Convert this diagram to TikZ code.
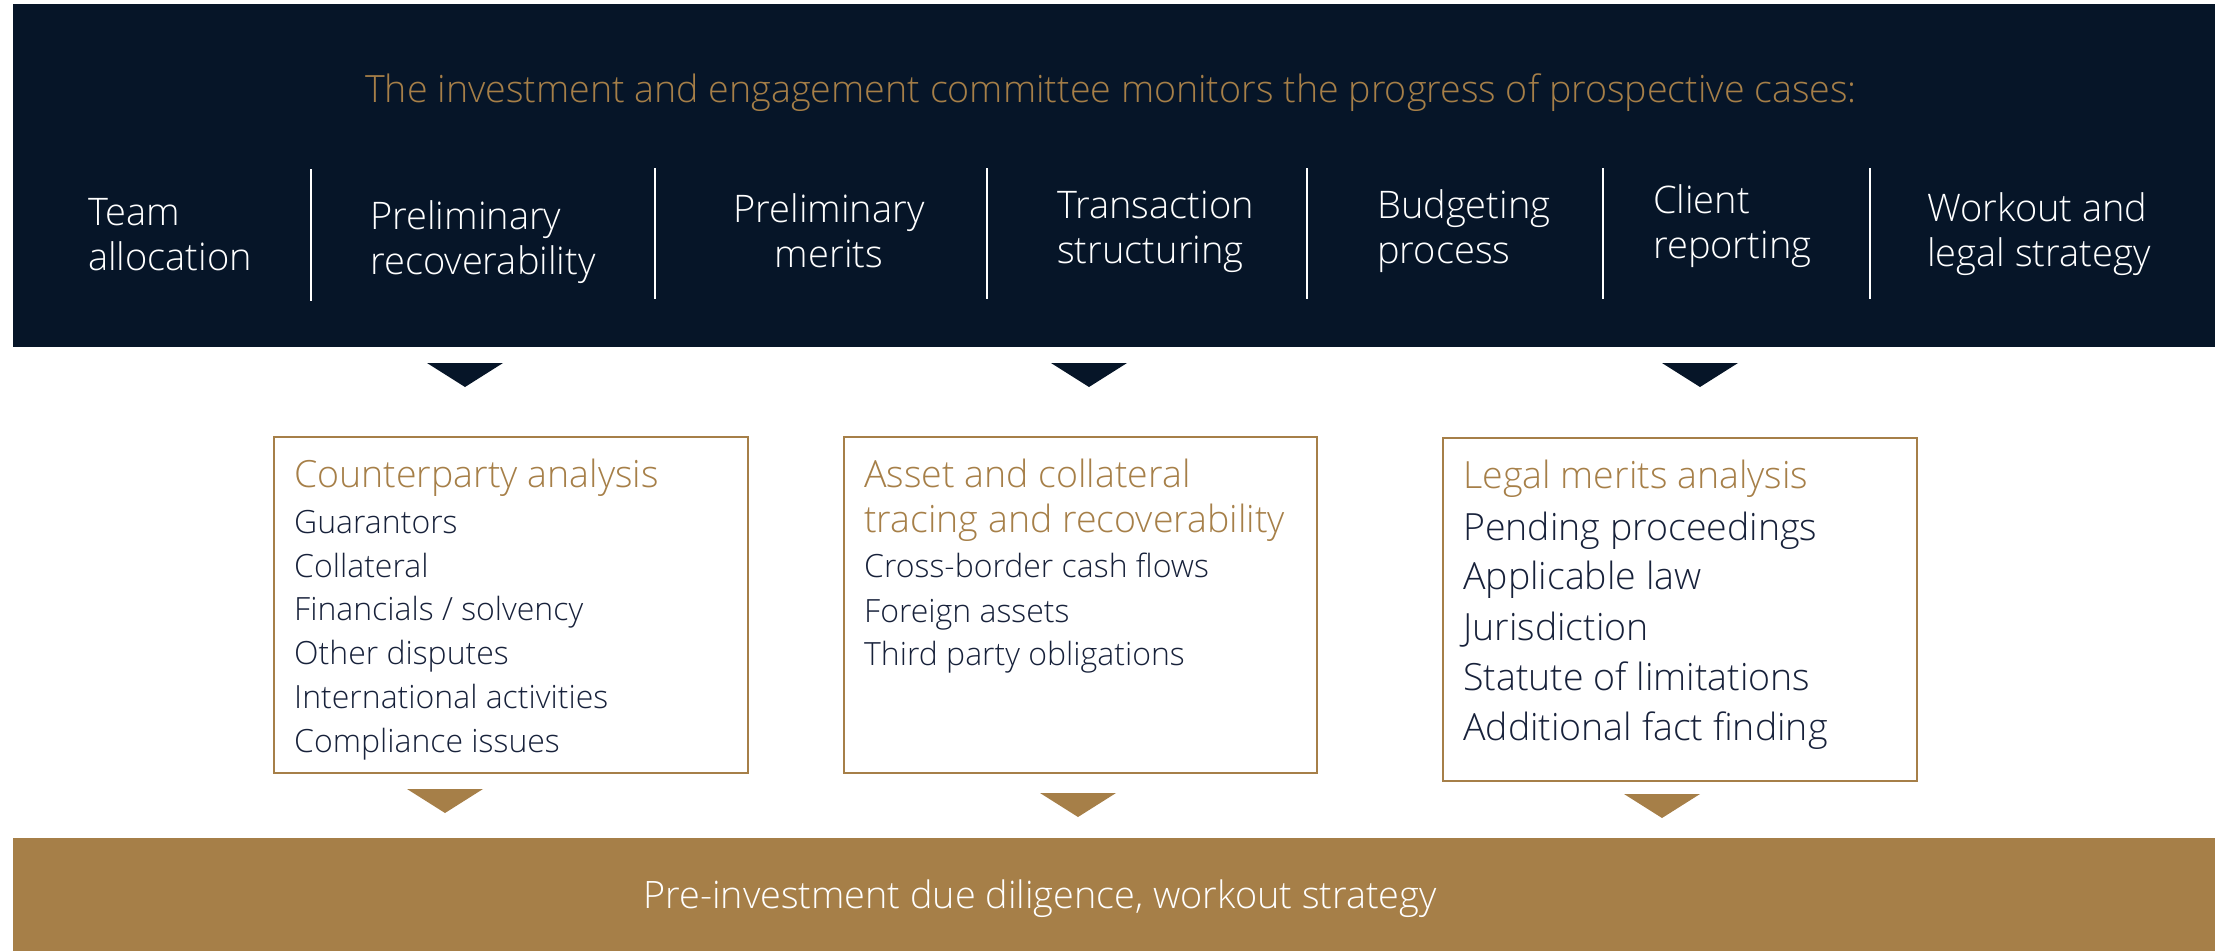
\documentclass[tikz,border=0pt]{standalone}
\usepackage{fontspec}
\setmainfont{Open Sans}[UprightFont=* Light]
\usepackage{xcolor}
\definecolor{navy}{HTML}{061528}
\definecolor{gold}{HTML}{A67F48}
\definecolor{ink}{HTML}{17213A}
\tikzset{
  notch/.pic={
    \fill (-38,0) -- (38,0) -- (0,24) -- cycle;
  },
  stage/.style={
    text = white,
    align = left,
    inner sep = 0,
    anchor = base west,
    font = \fontsize{38}{45}\selectfont
  },
  divider/.style={
    draw = white,
    line width = 2.5pt
  },
  casebox/.style={
    draw = gold,
    line width = 2pt,
    fill = white,
    inner sep = 0,
    anchor = north west
  },
  boxhead/.style={
    text = gold,
    align = left,
    inner sep = 0,
    anchor = base west,
    font = \fontsize{37.5}{45}\selectfont
  },
  boxitem/.style={
    text = ink,
    inner sep = 0,
    anchor = base west,
    font = \fontsize{32}{44}\selectfont
  },
  bigitem/.style={
    boxitem,
    font = \fontsize{37.5}{50}\selectfont
  }
}

\begin{document}
\begin{tikzpicture}[x=1pt, y=-1pt]
    \useasboundingbox (0,0) rectangle (2215,951);
    % committee banner (two-line labels sit on their last baseline)
    \fill[navy] (13,4) rectangle (2215,347);
    \node[text=gold, inner sep=0, anchor=base, font=\fontsize{37.6}{45}\selectfont] (title) at (1111,102)
        {The investment and engagement committee monitors the progress of prospective cases:};
    \node[stage] (team) at (88,270) {Team\\allocation};
    \node[stage] (prerec) at (370,274) {Preliminary\\recoverability};
    \node[stage, align=center, anchor=base] (premer) at (829,267) {Preliminary\\merits};
    \node[stage] (trans) at (1057,263) {Transaction\\structuring};
    \node[stage] (budget) at (1377,263) {Budgeting\\process};
    \node[stage] (client) at (1653,258) {Client\\reporting};
    \node[stage] (workout) at (1927,266) {Workout and\\legal strategy};
    \draw[divider] (311,169) -- (311,301);
    \draw[divider] (655,168) -- (655,299);
    \draw[divider] (987,168) -- (987,299);
    \draw[divider] (1307,168) -- (1307,299);
    \draw[divider] (1603,168) -- (1603,299);
    \draw[divider] (1870,168) -- (1870,299);

    \pic[navy] at (465,363) {notch};
    \pic[navy] at (1089,363) {notch};
    \pic[navy] at (1700,363) {notch};

    % analysis boxes
    \node[casebox, minimum width=474pt, minimum height=336pt] (cpbox) at (273,436) {};
    \node[casebox, minimum width=473pt, minimum height=336pt] (assetbox) at (843,436) {};
    \node[casebox, minimum width=474pt, minimum height=343pt] (legalbox) at (1442,437) {};

    \node[boxhead] (cphead) at (294,487) {Counterparty analysis};
    \node[boxitem] (cp1) at (294,533) {Guarantors};
    \node[boxitem] (cp2) at (294,577) {Collateral};
    \node[boxitem] (cp3) at (294,620) {Financials / solvency};
    \node[boxitem] (cp4) at (294,664) {Other disputes};
    \node[boxitem] (cp5) at (294,708) {International activities};
    \node[boxitem] (cp6) at (294,752) {Compliance issues};

    \node[boxhead] (assethead) at (864,532) {Asset and collateral\\tracing and recoverability};
    \node[boxitem] (asset1) at (864,577) {Cross-border cash flows};
    \node[boxitem] (asset2) at (864,622) {Foreign assets};
    \node[boxitem] (asset3) at (864,665) {Third party obligations};

    \node[boxhead] (legalhead) at (1463,488) {Legal merits analysis};
    \node[bigitem] (legal1) at (1463,540) {Pending proceedings};
    \node[bigitem] (legal2) at (1463,589) {Applicable law};
    \node[bigitem] (legal3) at (1463,640) {Jurisdiction};
    \node[bigitem] (legal4) at (1463,690) {Statute of limitations};
    \node[bigitem] (legal5) at (1463,740) {Additional fact finding};

    \pic[gold] at (445,789) {notch};
    \pic[gold] at (1078,793) {notch};
    \pic[gold] at (1662,794) {notch};

    % outcome bar
    \fill[gold] (13,838) rectangle (2215,951);
    \node[text=white, inner sep=0, anchor=base, font=\fontsize{37.8}{45}\selectfont] (outcome) at (1040,908)
        {Pre-investment due diligence, workout strategy};
\end{tikzpicture}
\end{document}
